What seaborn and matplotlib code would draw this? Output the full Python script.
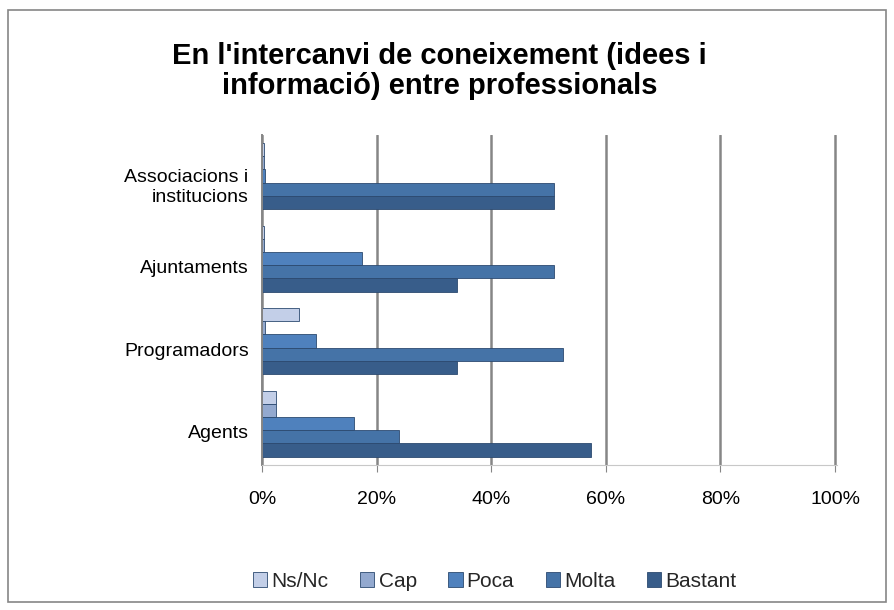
import pandas as pd
import matplotlib.pyplot as plt
import matplotlib.transforms as mtrans
import seaborn as sns
from matplotlib.patches import Rectangle
from matplotlib.ticker import PercentFormatter

# Dades llegides del gràfic (percentatges)
categories = ['Associacions i\ninstitucions', 'Ajuntaments', 'Programadors', 'Agents']
series = ['Ns/Nc', 'Cap', 'Poca', 'Molta', 'Bastant']
ns_nc = [0.3, 0.3, 6.5, 2.5]
cap = [0.3, 0.3, 0.5, 2.5]
poca = [0.5, 17.5, 9.5, 16.0]
molta = [51.0, 51.0, 52.5, 24.0]
bastant = [51.0, 34.0, 34.0, 57.5]

colors = ['#c3cfe8', '#93a9cf', '#4f81bd', '#4573a7', '#385d8a']

rows = []
for serie, vals in zip(series, [ns_nc, cap, poca, molta, bastant]):
    for cat, v in zip(categories, vals):
        rows.append({'Categoria': cat, 'Serie': serie, 'Valor': v})
df = pd.DataFrame(rows)

sns.set_style('white')
plt.rcParams['font.family'] = ['Liberation Sans', 'DejaVu Sans']

fig = plt.figure(figsize=(8.94, 6.1), dpi=100)
ax = fig.add_axes([0.293, 0.238, 0.643, 0.541])

sns.barplot(data=df, y='Categoria', x='Valor', hue='Serie', order=categories,
            hue_order=series, palette=colors, orient='h', width=0.8,
            saturation=1, edgecolor='#2c4a70', linewidth=0.6, ax=ax)

ax.set_xlim(0, 100.3)
ax.set_xticks([0, 20, 40, 60, 80, 100])
ax.xaxis.set_major_formatter(PercentFormatter(decimals=0))
ax.grid(axis='x', color='#868686', linewidth=1.8)
ax.set_axisbelow(True)
ax.set_xlabel('')
ax.set_ylabel('')
for s in ['top', 'right']:
    ax.spines[s].set_visible(False)
ax.spines['left'].set_color('#868686')
ax.spines['left'].set_linewidth(1.4)
ax.spines['bottom'].set_color('#c8c8c8')
ax.tick_params(axis='both', labelsize=14, colors='black')
ax.tick_params(axis='x', pad=14, bottom=True, length=5, color='#868686')
ax.tick_params(axis='y', pad=6)

# etiquetes de categoria una mica més avall, com a l'original
shift = mtrans.ScaledTranslation(0, -6 / 72, fig.dpi_scale_trans)
for lbl in ax.get_yticklabels():
    lbl.set_transform(lbl.get_transform() + shift)

ax.legend(loc='upper center', bbox_to_anchor=(0.405, -0.268), ncol=5, frameon=False,
          fontsize=15, handlelength=0.7, handleheight=0.7, handletextpad=0.2,
          columnspacing=1.5)

fig.text(0.492, 0.884, "En l'intercanvi de coneixement (idees i\ninformació) entre professionals",
         ha='center', va='center', fontsize=21, fontweight='bold', linespacing=1.1,
         color='black')

fig.patches.append(Rectangle((0.009, 0.013), 0.982, 0.97, transform=fig.transFigure,
                             fill=False, edgecolor='#868686', linewidth=1.2))

fig.savefig('out.png', dpi=100)
